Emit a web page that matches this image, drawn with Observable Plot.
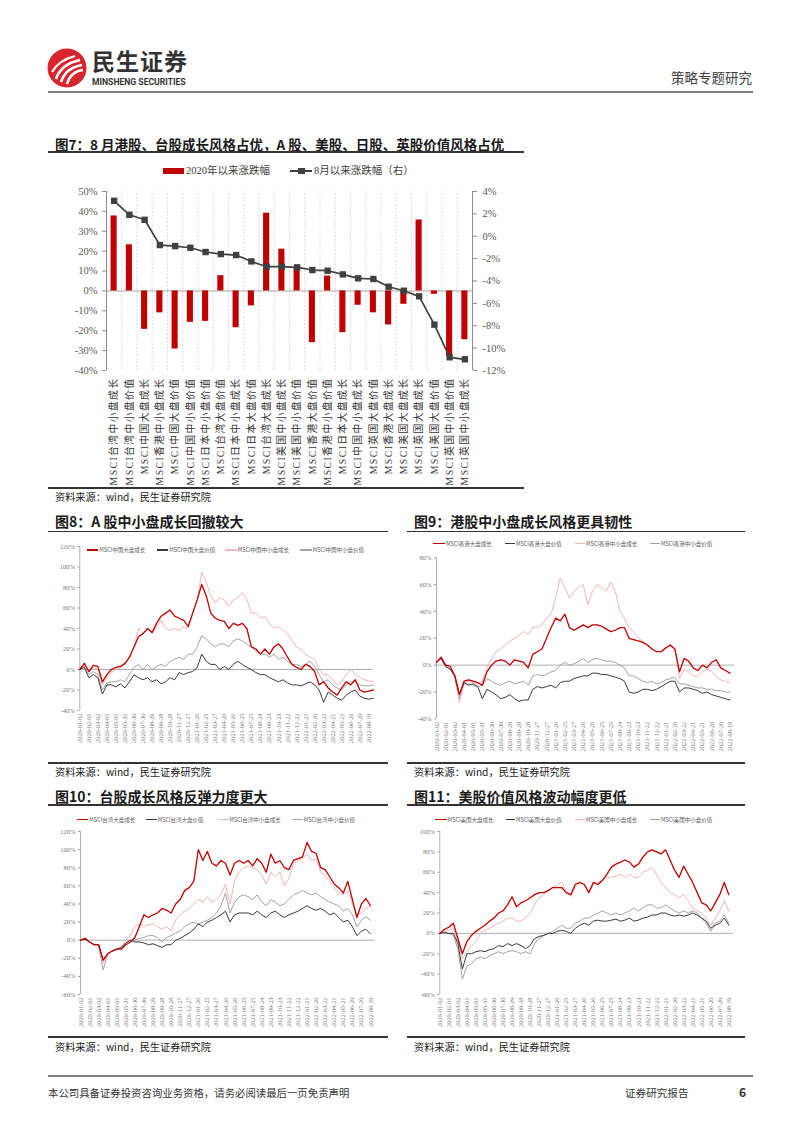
<!DOCTYPE html>
<html><head><meta charset="utf-8">
<script src="https://cdn.jsdelivr.net/npm/d3@7"></script>
<script src="https://cdn.jsdelivr.net/npm/@observablehq/plot@0.6"></script>
<style>
body{margin:0;background:#fff;}
#page{position:relative;width:802px;height:1133px;overflow:hidden;font-family:"Noto Sans CJK SC","Noto Sans",sans-serif;color:#1a1a1a;}
.abs{position:absolute;white-space:nowrap;}
.hline{position:absolute;background:#333;}
.ttl{position:absolute;white-space:nowrap;font-weight:bold;font-size:14px;line-height:16px;color:#1a1a1a;}
.src{position:absolute;white-space:nowrap;font-size:10.2px;line-height:12px;color:#1a1a1a;}
.lg{position:absolute;white-space:nowrap;font-size:5.5px;line-height:6px;color:#595959;}
.sw{position:absolute;height:1.2px;}
#main g[aria-label="x-axis tick label"] text{letter-spacing:1.4px;}
</style></head>
<body><div id="page">
<svg class="abs" style="left:47px;top:48px" width="40" height="40" viewBox="0 0 40 40">
  <circle cx="20" cy="20" r="19.5" fill="#D7262E"/>
  <path d="M9 31 C 12 22, 19 15, 33 12" stroke="#fff" stroke-width="2.6" fill="none"/>
  <path d="M14 34 C 17 25, 23 19, 35 17" stroke="#fff" stroke-width="2.6" fill="none"/>
  <path d="M20 36 C 22 29, 27 23, 36 22" stroke="#fff" stroke-width="2.4" fill="none"/>
  <path d="M5 24 C 9 17, 16 11, 28 8" stroke="#fff" stroke-width="2.2" fill="none"/>
</svg>
<div class="abs" style="left:92px;top:48px;font-size:23px;font-weight:bold;color:#333;line-height:24px;letter-spacing:1px;">民生证券</div>
<div class="abs" style="left:92px;top:78px;font-family:Roboto,sans-serif;font-size:8.6px;font-weight:bold;color:#333;line-height:9px;">MINSHENG SECURITIES</div>
<div class="abs" style="left:671px;top:69px;font-size:13.5px;color:#404040;line-height:16px;">策略专题研究</div>
<div class="hline" style="left:48px;top:91px;width:705px;height:2px;background:#7f7f7f"></div>

<div class="ttl" style="left:55px;top:136px;font-size:13.5px;">图7：8 月港股、台股成长风格占优，A 股、美股、日股、英股价值风格占优</div>
<div class="hline" style="left:48px;top:151px;width:476px;height:1.5px"></div>

<div class="abs" style="left:163px;top:168px;width:21px;height:6px;background:#C00000"></div>
<div class="abs" style="left:186px;top:164px;font-family:'Liberation Serif','Noto Sans CJK SC',serif;font-size:10.5px;line-height:13px;color:#404040">2020年以来涨跌幅</div>
<div class="abs" style="left:290px;top:170px;width:22px;height:1.6px;background:#404040"></div>
<div class="abs" style="left:298px;top:167.8px;width:6.5px;height:6.5px;background:#404040"></div>
<div class="abs" style="left:314px;top:164px;font-family:'Liberation Serif','Noto Sans CJK SC',serif;font-size:10.5px;line-height:13px;color:#404040">8月以来涨跌幅（右）</div>

<div id="main" class="abs" style="left:48px;top:182px"></div>
<div class="hline" style="left:48px;top:487px;width:476px;height:1.5px"></div>
<div class="src" style="left:55px;top:491px">资料来源：wind，民生证券研究院</div>

<div class="ttl" style="left:55px;top:513px">图8：A 股中小盘成长回撤较大</div>
<div class="hline" style="left:48px;top:530.5px;width:340px;height:1.5px"></div>
<div class="ttl" style="left:414px;top:513px">图9：港股中小盘成长风格更具韧性</div>
<div class="hline" style="left:407px;top:530.5px;width:338px;height:1.5px"></div>
<div id="c8" class="abs" style="left:48px;top:536px"></div>
<div id="c9" class="abs" style="left:407px;top:547px"></div>
<div class="hline" style="left:48px;top:762px;width:340px;height:1.5px"></div>
<div class="hline" style="left:407px;top:762px;width:338px;height:1.5px"></div>
<div class="src" style="left:55px;top:766px">资料来源：wind，民生证券研究院</div>
<div class="src" style="left:414px;top:766px">资料来源：wind，民生证券研究院</div>

<div class="ttl" style="left:55px;top:788px">图10：台股成长风格反弹力度更大</div>
<div class="hline" style="left:48px;top:804px;width:340px;height:1.5px"></div>
<div class="ttl" style="left:414px;top:788px">图11：美股价值风格波动幅度更低</div>
<div class="hline" style="left:407px;top:804px;width:338px;height:1.5px"></div>
<div id="c10" class="abs" style="left:48px;top:823px"></div>
<div id="c11" class="abs" style="left:407px;top:823px"></div>
<div class="hline" style="left:48px;top:1036px;width:340px;height:1.5px"></div>
<div class="hline" style="left:407px;top:1036px;width:338px;height:1.5px"></div>
<div class="src" style="left:55px;top:1041px">资料来源：wind，民生证券研究院</div>
<div class="src" style="left:414px;top:1041px">资料来源：wind，民生证券研究院</div>

<div class="hline" style="left:48px;top:1075px;width:705px;height:1.5px;background:#7f7f7f"></div>
<div class="abs" style="left:48px;top:1086px;font-size:10.4px;line-height:13px;color:#333">本公司具备证券投资咨询业务资格，请务必阅读最后一页免责声明</div>
<div class="abs" style="left:625px;top:1086px;font-size:10.6px;line-height:13px;color:#333">证券研究报告</div>
<div class="abs" style="left:739px;top:1085px;font-size:12px;font-weight:bold;line-height:14px;color:#333">6</div>
</div>
<script>
// ---------- Figure 7 data ----------
const categories = ["MSCI台湾中小盘成长","MSCI台湾中小盘价值","MSCI中国大盘成长","MSCI香港中小盘成长","MSCI中国大盘价值","MSCI中国中小盘价值","MSCI日本中小盘价值","MSCI台湾大盘价值","MSCI日本中小盘成长","MSCI日本大盘价值","MSCI台湾大盘成长","MSCI美国中小盘成长","MSCI美国中小盘价值","MSCI香港大盘价值","MSCI香港中小盘价值","MSCI日本大盘成长","MSCI中国中小盘成长","MSCI英国大盘价值","MSCI香港大盘成长","MSCI美国大盘成长","MSCI英国大盘成长","MSCI美国大盘价值","MSCI英国中小盘价值","MSCI英国中小盘成长"];
const changeSince2020 = [37.7, 23.2, -19.3, -11, -29.2, -15.8, -15.3, 7.7, -18.5, -7.5, 39.1, 21, 12, -26, 7.5, -21, -7.2, -11, -17.1, -6.7, 35.7, -1.7, -33, -24.5];
const changeSinceAug = [3.17, 1.92, 1.47, -0.79, -0.88, -1.03, -1.41, -1.59, -1.68, -2.25, -2.72, -2.72, -2.78, -3.02, -3.08, -3.41, -3.76, -3.82, -4.51, -4.87, -5.37, -7.9, -10.82, -11.0];
const leftTicks = [50, 40, 30, 20, 10, 0, -10, -20, -30, -40];
const rightTicks = [4, 2, 0, -2, -4, -6, -8, -10, -12];

// ---------- small charts: shared x grid ----------
const smallTickLabels = ["2020-01-02","2020-02-01","2020-03-02","2020-04-01","2020-05-01","2020-05-31","2020-06-30","2020-07-30","2020-08-29","2020-09-28","2020-10-28","2020-11-27","2020-12-27","2021-01-26","2021-02-25","2021-03-27","2021-04-26","2021-05-26","2021-06-25","2021-07-25","2021-08-24","2021-09-23","2021-10-23","2021-11-22","2021-12-22","2022-01-21","2022-02-20","2022-03-22","2022-04-21","2022-05-21","2022-06-20","2022-07-20","2022-08-19"];

// Figure 8 (China)
const cnLargeGrowth = [0,6,-2,4,3,-12,-5,0,2,3,6,12,22,32,35,40,36,45,52,55,58,52,50,48,42,55,68,83,72,55,50,48,47,40,45,43,45,40,22,20,15,20,15,22,25,20,12,5,2,0,5,3,-2,-15,-12,-18,-22,-25,-18,-12,-15,-10,-20,-22,-21,-20];
const cnLargeValue = [0,2,-8,-5,-8,-24,-15,-15,-17,-14,-18,-12,-5,-8,-10,-8,-12,-10,-14,-12,-8,-10,-3,-5,-3,-2,2,15,8,5,5,0,3,0,5,8,5,2,0,-3,-5,-5,-8,-10,-12,-10,-13,-15,-15,-16,-14,-12,-15,-20,-32,-22,-25,-28,-30,-25,-22,-20,-26,-28,-29,-28];
const cnSmallGrowth = [0,6,-3,2,0,-15,-8,-3,0,2,5,12,22,40,35,40,35,42,48,40,38,40,38,42,40,55,68,95,85,72,65,70,68,62,68,70,75,68,55,55,50,52,45,40,42,38,35,28,22,20,15,12,10,0,-5,-5,-10,-15,-12,-5,0,-5,-8,-10,-11,-12];
const cnSmallValue = [0,3,-5,-2,-5,-20,-13,-12,-12,-10,-12,-5,2,5,0,5,0,3,5,3,8,10,12,10,15,15,22,33,30,25,22,25,25,22,28,30,28,25,22,18,15,15,12,15,10,12,8,5,5,3,5,8,3,-5,-12,-10,-15,-18,-20,-15,-12,-12,-15,-16,-16,-15];
// Figure 9 (Hong Kong)
const hkLargeGrowth = [2,6,0,-1,-8,-22,-12,-11,-12,-13,-15,-5,0,3,4,3,0,4,3,2,-2,8,10,12,20,28,35,33,38,28,26,28,30,28,30,30,29,27,25,26,28,28,20,19,18,17,15,12,10,10,13,15,12,-5,5,3,-2,-4,0,-2,2,4,-2,-4,-6];
const hkLargeValue = [2,5,-1,-3,-8,-22,-13,-15,-14,-16,-25,-18,-20,-22,-25,-24,-22,-25,-27,-26,-26,-18,-16,-17,-16,-15,-17,-13,-12,-12,-10,-9,-8,-8,-6,-6,-7,-7,-8,-9,-10,-12,-20,-21,-20,-18,-18,-19,-18,-16,-14,-12,-12,-20,-17,-17,-18,-19,-21,-20,-22,-23,-24,-25,-26];
const hkSmallGrowth = [2,5,-1,-3,-10,-28,-13,-12,-13,-14,-12,-2,5,10,12,15,18,20,22,25,23,28,28,30,35,38,50,65,58,50,55,58,60,45,55,60,58,55,62,55,40,35,28,25,20,18,15,12,10,10,12,14,12,-10,-3,-5,-8,-8,-5,-3,-5,-8,-11,-12,-13];
const hkSmallValue = [2,5,-1,-3,-8,-25,-14,-14,-15,-16,-15,-10,-12,-14,-15,-13,-12,-14,-13,-12,-15,-8,-7,-8,-7,-5,-4,0,2,0,1,3,5,2,4,5,4,3,3,2,0,-2,-8,-8,-10,-12,-13,-12,-14,-13,-11,-10,-9,-14,-14,-15,-16,-17,-17,-18,-18,-19,-19,-20,-20];
// Figure 10 (Taiwan)
const twLargeGrowth = [0,2,-2,-5,-5,-22,-15,-12,-10,-10,-5,-2,3,15,28,25,28,30,35,33,30,40,45,55,58,65,100,88,98,85,82,88,85,72,85,88,85,88,82,90,85,75,95,85,88,80,78,88,90,92,108,98,96,80,78,70,62,58,52,65,45,25,40,46,38];
const twLargeValue = [0,1,-2,-5,-5,-22,-15,-12,-10,-8,-3,0,-2,-2,-3,-5,-4,-6,-8,-5,-5,0,2,5,8,12,18,15,20,22,25,28,32,20,28,30,30,30,28,32,28,25,30,32,28,25,28,30,32,35,38,35,33,35,32,28,30,25,20,22,15,5,10,12,7];
const twSmallGrowth = [0,2,-2,-5,-6,-25,-15,-12,-10,-8,0,5,15,18,15,17,18,15,12,15,10,22,28,32,35,40,45,42,48,42,45,50,62,40,65,75,80,82,80,78,72,62,75,70,75,60,68,85,88,90,95,88,90,75,72,65,58,52,50,55,40,28,30,35,38];
const twSmallValue = [0,1,-2,-5,-6,-33,-15,-12,-10,-8,-3,0,0,2,3,5,5,3,-2,3,5,8,10,15,18,20,18,20,22,25,30,38,52,30,42,48,50,48,45,50,42,38,45,42,38,40,45,50,52,55,52,50,52,48,45,42,40,38,32,35,28,15,22,26,22];
// Figure 11 (US)
const usLargeGrowth = [0,4,6,10,-5,-20,-8,-2,2,5,8,12,15,20,22,28,36,26,30,32,35,38,40,40,42,45,45,45,40,38,48,50,48,40,50,48,52,58,65,68,70,72,70,65,68,75,80,82,80,78,82,72,62,55,66,58,50,40,30,28,22,30,38,50,38];
const usLargeValue = [0,1,0,0,-10,-35,-20,-20,-18,-17,-18,-16,-15,-12,-13,-10,-12,-10,-12,-15,-12,-5,-3,-2,0,0,2,3,2,0,5,8,10,8,12,13,12,12,13,14,12,13,15,12,13,15,16,18,18,20,20,18,17,18,17,18,20,18,15,12,5,8,10,15,8];
const usSmallGrowth = [0,2,3,5,-8,-25,-18,-12,-8,0,3,5,8,10,12,15,15,12,12,15,20,28,35,38,42,45,48,50,42,36,45,50,48,40,48,50,52,55,55,56,58,55,58,55,55,60,62,65,58,50,45,40,38,35,38,32,25,22,20,15,8,15,22,32,22];
const usSmallValue = [0,0,0,-2,-15,-45,-32,-30,-25,-23,-25,-22,-20,-18,-20,-18,-17,-18,-20,-18,-20,-10,-5,-2,0,2,5,8,5,5,10,12,15,15,18,20,22,20,18,20,18,20,22,25,22,25,28,28,25,25,28,25,22,20,22,20,22,20,15,10,2,10,12,18,10];

const RED = "#C00000", DARK = "#404040", PINK = "#F2B6B9", GRAY = "#A3A3A3";
const serif = "'Liberation Serif','Noto Sans CJK SC',serif";

// ---------- Figure 7 ----------
{
  const toLeft = r => (r + 12) / 16 * 90 - 40;
  const toRight = l => (l + 40) / 90 * 16 - 12;
  const rows = categories.map((c, i) => ({cat: c, bar: changeSince2020[i], line: changeSinceAug[i]}));
  const W = 476, ML = 58, MR = 52;
  const step = (W - ML - MR) / categories.length;
  const chart = Plot.plot({
    width: W, height: 298, marginLeft: ML, marginRight: MR, marginTop: 9, marginBottom: 110,
    style: {fontFamily: serif, fontSize: "10.5px", color: "#595959", background: "transparent", overflow: "visible"},
    x: {type: "band", domain: categories, paddingInner: 0.6, paddingOuter: 0.3, round: false, label: null},
    y: {domain: [-40, 50], label: null},
    marks: [
      Plot.ruleX(categories.slice(1), {dx: -step / 2, y1: -40, y2: 50, stroke: "#c8c8c8", strokeWidth: 0.8, strokeDasharray: "1.5,2"}),
      Plot.ruleY([0], {stroke: "#a6a6a6", strokeWidth: 1}),
      Plot.barY(rows, {x: "cat", y: "bar", fill: RED}),
      Plot.ruleX([categories[0]], {dx: -step / 2, y1: -40, y2: 50, stroke: "#8c8c8c"}),
      Plot.ruleX([categories[categories.length - 1]], {dx: step / 2, y1: -40, y2: 50, stroke: "#8c8c8c"}),
      Plot.axisY({anchor: "left", label: null, ticks: leftTicks, tickFormat: d => d + "%", tickSize: 4, tickPadding: 5, stroke: "#8c8c8c"}),
      Plot.axisY({anchor: "right", label: null, ticks: rightTicks.map(toLeft), tickFormat: v => Math.round(toRight(v)) + "%", tickSize: 4, tickPadding: 6, stroke: "#8c8c8c"}),
      Plot.axisX({anchor: "bottom", label: null, tickRotate: -90, tickSize: 0, tickPadding: 7, fontSize: 9.8, fill: "#333"}),
      Plot.line(rows, {x: "cat", y: d => toLeft(d.line), stroke: DARK, strokeWidth: 1.7}),
      Plot.dot(rows, {x: "cat", y: d => toLeft(d.line), symbol: "square", r: 3.6, fill: DARK, stroke: "none"})
    ]
  });
  document.getElementById("main").appendChild(chart);
}

// ---------- small line charts ----------
const start = new Date(Date.UTC(2020, 0, 2));
const DAY = 864e5;
const dateAt = j => new Date(start.getTime() + 15 * j * DAY);
const endDate = new Date(start.getTime() + 975 * DAY);
const parse = d3.utcParse("%Y-%m-%d");
const tickDates = smallTickLabels.map(parse);

function smallChart(id, o) {
  const series = o.series;
  const marks = [
    Plot.ruleY([0], {stroke: "#a6a6a6", strokeWidth: 0.9}),
    Plot.ruleX([start], {y1: o.yDomain[0], y2: o.yDomain[1], stroke: "#9a9a9a", strokeWidth: 0.8}),
    Plot.axisY({anchor: "left", label: null, ticks: o.yTicks, tickFormat: d => d + "%", tickSize: 2, tickPadding: 3, stroke: "#9a9a9a", fontSize: 6.5, fill: "#7a7a7a"}),
    Plot.axisX({anchor: "bottom", label: null, ticks: tickDates, tickFormat: d3.utcFormat("%Y-%m-%d"), tickRotate: -90, tickSize: 0, tickPadding: 3, fontSize: 6.3, fill: "#7a7a7a"})
  ];
  for (const s of [series[3], series[2], series[1], series[0]]) {
    const pts = s.values.map((v, j) => ({date: dateAt(j), v}));
    marks.push(Plot.line(pts, {x: "date", y: "v", stroke: s.color, strokeWidth: s.width, curve: "linear"}));
  }
  const chart = Plot.plot({
    width: 340, height: o.height, marginLeft: o.ml, marginRight: o.mr, marginTop: o.mt, marginBottom: o.mb,
    style: {fontFamily: serif, fontSize: "6.5px", background: "transparent", overflow: "visible"},
    x: {type: "utc", domain: [start, endDate], label: null},
    y: {domain: o.yDomain, label: null},
    marks
  });
  document.getElementById(id).appendChild(chart);
  // legend
  const page = document.getElementById("page");
  series.forEach((s, i) => {
    const sw = document.createElement("div");
    sw.className = "sw";
    sw.style.left = o.legend[i][0] + "px";
    sw.style.top = (o.legendY - 0.6) + "px";
    sw.style.width = (o.legend[i][1] - o.legend[i][0]) + "px";
    sw.style.height = (s.width + 0.2) + "px";
    sw.style.background = s.color;
    page.appendChild(sw);
    const t = document.createElement("div");
    t.className = "lg";
    t.style.left = (o.legend[i][1] + 1) + "px";
    t.style.top = (o.legendY - 3) + "px";
    t.textContent = s.name;
    page.appendChild(t);
  });
}

const mk = (names, vals) => [
  {name: names[0], values: vals[0], color: RED, width: 1.3},
  {name: names[1], values: vals[1], color: "#3a3a3a", width: 1},
  {name: names[2], values: vals[2], color: PINK, width: 1},
  {name: names[3], values: vals[3], color: GRAY, width: 1}
];

smallChart("c8", {
  series: mk(["MSCI中国大盘成长","MSCI中国大盘价值","MSCI中国中小盘成长","MSCI中国中小盘价值"], [cnLargeGrowth, cnLargeValue, cnSmallGrowth, cnSmallValue]),
  yDomain: [-40, 120], yTicks: [-40, -20, 0, 20, 40, 60, 80, 100, 120],
  height: 222, ml: 31.3, mr: 15.2, mt: 10, mb: 48,
  legendY: 550, legend: [[86.7, 98.3], [156.7, 168.3], [225, 236.7], [300, 311.7]]
});
smallChart("c9", {
  series: mk(["MSCI香港大盘成长","MSCI香港大盘价值","MSCI香港中小盘成长","MSCI香港中小盘价值"], [hkLargeGrowth, hkLargeValue, hkSmallGrowth, hkSmallValue]),
  yDomain: [-40, 80], yTicks: [-40, -20, 0, 20, 40, 60, 80],
  height: 211, ml: 29, mr: 13, mt: 10.3, mb: 39.7,
  legendY: 543.5, legend: [[433, 445], [505, 515], [575, 585], [650, 660]]
});
smallChart("c10", {
  series: mk(["MSCI台湾大盘成长","MSCI台湾大盘价值","MSCI台湾中小盘成长","MSCI台湾中小盘价值"], [twLargeGrowth, twLargeValue, twSmallGrowth, twSmallValue]),
  yDomain: [-60, 120], yTicks: [-60, -40, -20, 0, 20, 40, 60, 80, 100, 120],
  height: 213, ml: 32, mr: 13.5, mt: 8, mb: 42,
  legendY: 819.5, legend: [[76.7, 88.3], [146, 156.7], [218, 228.3], [291.7, 302.7]]
});
smallChart("c11", {
  series: mk(["MSCI美国大盘成长","MSCI美国大盘价值","MSCI美国中小盘成长","MSCI美国中小盘价值"], [usLargeGrowth, usLargeValue, usSmallGrowth, usSmallValue]),
  yDomain: [-60, 100], yTicks: [-60, -40, -20, 0, 20, 40, 60, 80, 100],
  height: 213, ml: 32.3, mr: 14.2, mt: 8, mb: 42,
  legendY: 819.5, legend: [[435, 446.7], [506, 515], [575, 585], [650, 660]]
});
</script>
</body></html>
